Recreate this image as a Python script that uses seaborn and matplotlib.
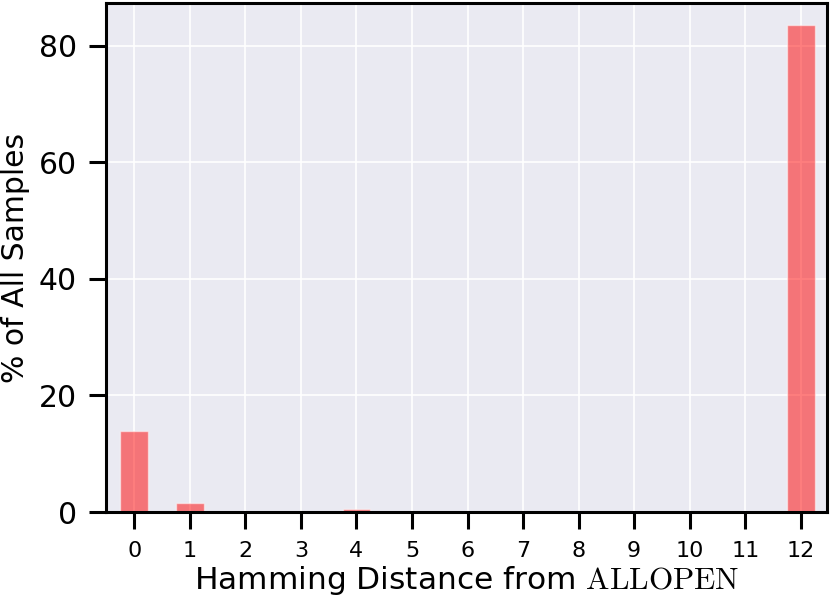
import numpy as np
import pandas as pd
import seaborn as sns
import matplotlib
matplotlib.use("Agg")
import matplotlib.pyplot as plt

# hamming distance histogram values
distances = list(range(13))
pct_samples = [13.9, 1.5, 0.0, 0.0, 0.45, 0.0, 0.0, 0.0, 0.0, 0.0, 0.0, 0.0, 83.5]

df = pd.DataFrame({"dist": distances, "pct": pct_samples})

sns.set_theme(style="darkgrid")
plt.rcParams["mathtext.fontset"] = "cm"
plt.rcParams["font.family"] = ["DejaVu Sans"]
plt.rcParams["text.color"] = "black"
plt.rcParams["axes.labelcolor"] = "black"
plt.rcParams["xtick.color"] = "black"
plt.rcParams["ytick.color"] = "black"

fig = plt.figure(figsize=(8.31, 6.05), dpi=100)
ax = fig.add_axes([0.1276, 0.1537, 0.8674, 0.8413])

sns.barplot(data=df, x="dist", y="pct", color="red", saturation=1,
            alpha=0.5, width=0.5, ax=ax)

ax.set_xlim(-0.51, 12.47)
ax.set_ylim(0, 87.3)
ax.set_yticks([0, 20, 40, 60, 80])
ax.grid(True, axis="both", color="white", linewidth=1.2)
ax.set_axisbelow(True)

for s in ax.spines.values():
    s.set_visible(True)
    s.set_color("black")
    s.set_linewidth(2.2)

ax.tick_params(axis="both", which="major", length=12, width=2.2,
               color="black", labelcolor="black", pad=9, bottom=True, left=True)
ax.tick_params(axis="x", labelsize=16)
ax.tick_params(axis="y", labelsize=21.5)

ax.set_xlabel(r"Hamming Distance from $\mathrm{ALLOPEN}$", fontsize=22.5,
              labelpad=2, color="black")
ax.set_ylabel("% of All Samples", fontsize=21.5, labelpad=6, color="black")

fig.savefig("out.png", dpi=100)
